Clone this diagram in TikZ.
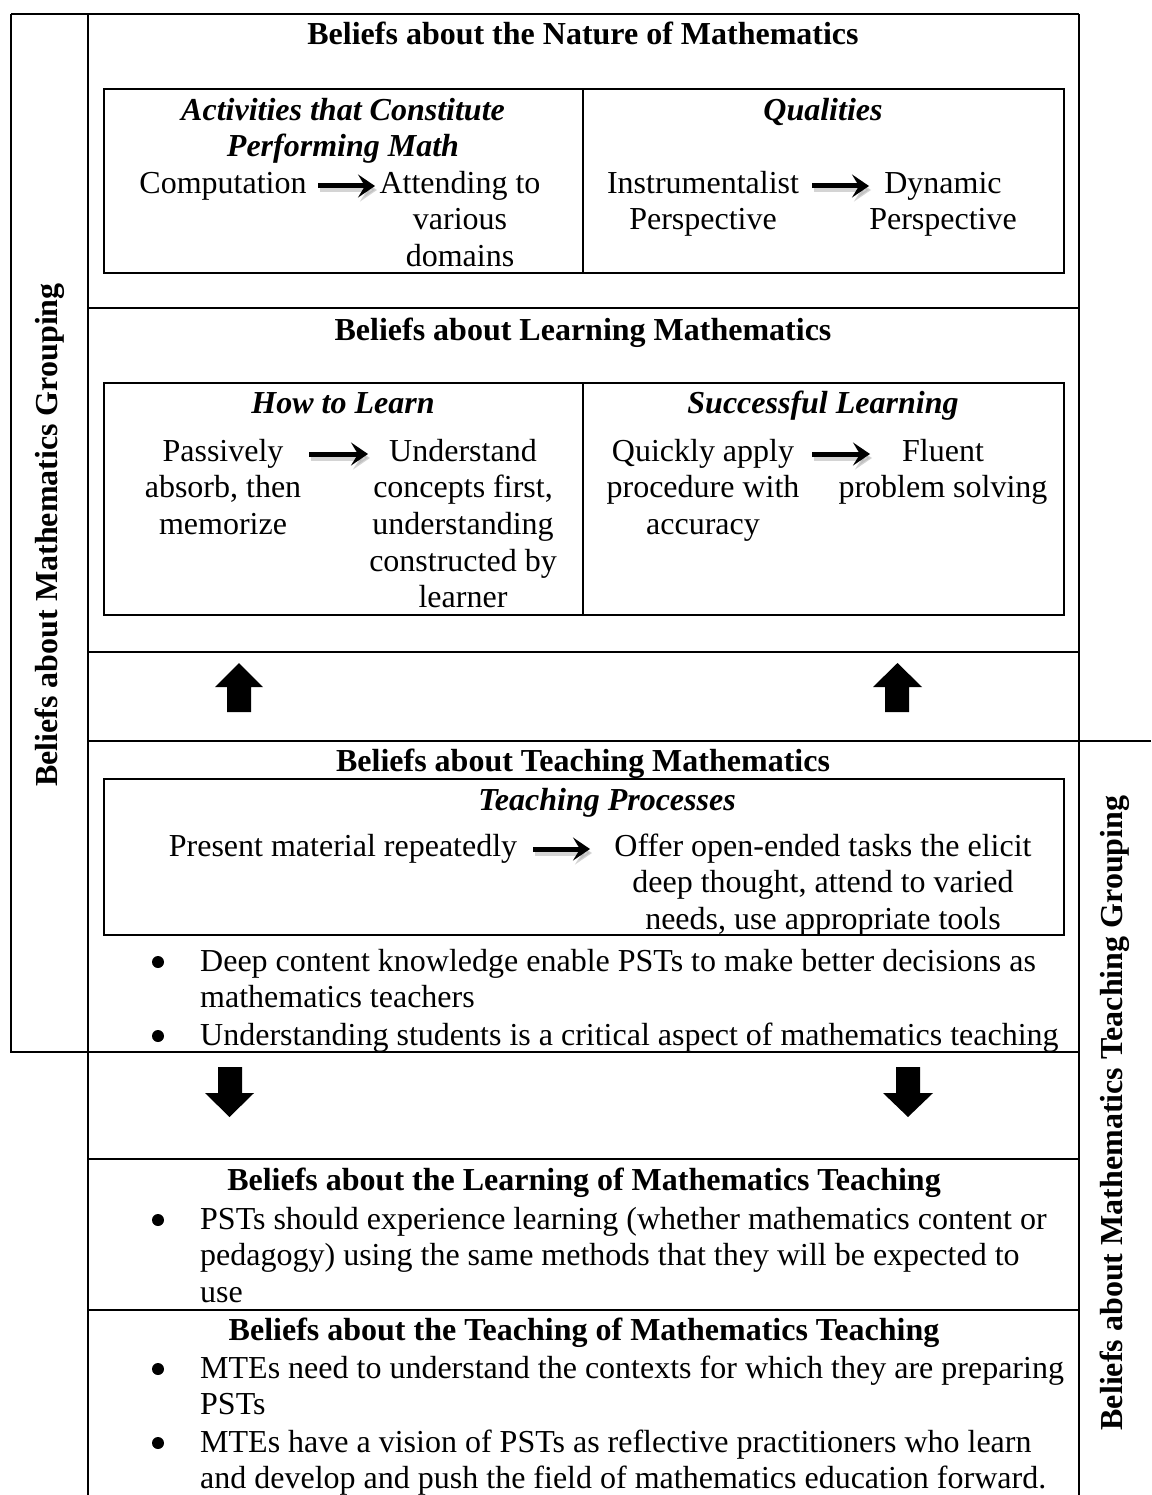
\documentclass[tikz,border=0pt]{standalone}
\usepackage{fontspec}
\setmainfont{Liberation Serif}
\usetikzlibrary{arrows.meta}
\newcommand\fs{\fontsize{32}{36.6}\selectfont}
\begin{document}
\begin{tikzpicture}[x=1pt,y=-1pt,
  bl/.style={inner sep=0pt, anchor=north, yshift=25.6pt, font=\fs, align=center},
  bll/.style={bl, anchor=north west, align=left},
  hd/.style={bl, font=\fs\bfseries},
  sub/.style={bl, font=\fs\bfseries\itshape},
  rule/.style={line width=2pt},
  flow/.style={line width=5pt, -{Stealth[length=17pt,width=23pt,inset=7pt]}},
  flowshadow/.style={flow, draw=black!30, opacity=0.55},
  block/.style={fill=black, draw=none},
  dot/.style={circle, fill=black, draw=none, inner sep=0pt, minimum size=12pt},
  grp/.style={inner sep=0pt, anchor=base, rotate=90, font=\fs\bfseries}
]
\useasboundingbox (0,0) rectangle (1151,1495);
\fill[white] (0,0) rectangle (1151,1495);

% ---- frame lines ----
\draw[rule] (11,14) -- (1079,14);
\draw[rule] (11,14) -- (11,1052) -- (1079,1052);
\draw[rule] (88,14) -- (88,1495);
\draw[rule] (1079,14) -- (1079,1495);
\draw[rule] (88,308) -- (1079,308);
\draw[rule] (88,652) -- (1079,652);
\draw[rule] (88,741) -- (1151,741);
\draw[rule] (88,1159) -- (1079,1159);
\draw[rule] (88,1310) -- (1079,1310);

% ---- inner boxes ----
\draw[rule] (104,89) rectangle (1064,273);
\draw[rule] (583,89) -- (583,273);
\draw[rule] (104,383) rectangle (1064,615);
\draw[rule] (583,383) -- (583,615);
\draw[rule] (104,779) rectangle (1064,935);

% ---- grouping labels ----
\node[grp] (lgroup) at (57,535) {Beliefs about Mathematics Grouping};
\node[grp] (rgroup) at (1122,1113) {Beliefs about Mathematics Teaching Grouping};

% ---- Nature of Mathematics ----
\node[hd] (h1) at (583,44) {\strut Beliefs about the Nature of Mathematics};
\node[sub] (act) at (343,120) {\strut Activities that Constitute\\Performing Math};
\node[bl] (comp) at (223,193) {\strut Computation};
\node[bl] (attend) at (460,193) {\strut Attending to\\various\\domains};
\node[sub] (qual) at (823,120) {\strut Qualities};
\node[bl] (instr) at (703,193) {\strut Instrumentalist\\Perspective};
\node[bl] (dyn) at (943,193) {\strut Dynamic\\Perspective};

% ---- Learning Mathematics ----
\node[hd] (h2) at (583,340) {\strut Beliefs about Learning Mathematics};
\node[sub] (how) at (343,413) {\strut How to Learn};
\node[sub] (succ) at (823,413) {\strut Successful Learning};
\node[bl] (pass) at (223,461) {\strut Passively\\absorb, then\\memorize};
\node[bl] (under) at (463,461) {\strut Understand\\concepts first,\\understanding\\constructed by\\learner};
\node[bl] (quick) at (703,461) {\strut Quickly apply\\procedure with\\accuracy};
\node[bl] (fluent) at (943,461) {\strut Fluent\\problem solving};

% ---- Teaching Mathematics ----
\node[hd] (h3) at (583,771) {\strut Beliefs about Teaching Mathematics};
\node[sub] (tproc) at (607,810) {\strut Teaching Processes};
\node[bl] (present) at (343,856) {\strut Present material repeatedly};
\node[bl] (offer) at (823,856) {\strut Offer open-ended tasks the elicit\\deep thought, attend to varied\\needs, use appropriate tools};
\node[dot] (b1dot) at (158,962) {};
\node[bll] (b1) at (200,971) {\strut Deep content knowledge enable PSTs to make better decisions as\\mathematics teachers};
\node[dot] (b2dot) at (158,1036) {};
\node[bll] (b2) at (200,1045) {\strut Understanding students is a critical aspect of mathematics teaching};

% ---- Learning of Mathematics Teaching ----
\node[hd] (h4) at (584,1190) {\strut Beliefs about the Learning of Mathematics Teaching};
\node[dot] (b3dot) at (158,1220) {};
\node[bll] (b3) at (200,1229) {\strut PSTs should experience learning (whether mathematics content or\\pedagogy) using the same methods that they will be expected to\\use};

% ---- Teaching of Mathematics Teaching ----
\node[hd] (h5) at (584,1340) {\strut Beliefs about the Teaching of Mathematics Teaching};
\node[dot] (b4dot) at (158,1369) {};
\node[bll] (b4) at (200,1378) {\strut MTEs need to understand the contexts for which they are preparing\\PSTs};
\node[dot] (b5dot) at (158,1443) {};
\node[bll] (b5) at (200,1452) {\strut MTEs have a vision of PSTs as reflective practitioners who learn\\and develop and push the field of mathematics education forward.};

% ---- small flow arrows ----
\coordinate (a1s) at (318,186); \coordinate (a1e) at (375,186);
\coordinate (a2s) at (812,186); \coordinate (a2e) at (869,186);
\coordinate (a3s) at (309,454); \coordinate (a3e) at (368,454);
\coordinate (a4s) at (812,454); \coordinate (a4e) at (870,454);
\coordinate (a5s) at (533,849); \coordinate (a5e) at (590,849);
\foreach \s/\e in {a1s/a1e,a2s/a2e,a3s/a3e,a4s/a4e,a5s/a5e}{
  \draw[flowshadow] ([shift={(2,4)}]\s) -- ([shift={(2,4)}]\e);
  \draw[flow] (\s) -- (\e);
}

% ---- block arrows ----
\fill[block] (239,663) -- (263,687) -- (251,687) -- (251,712) -- (227,712) -- (227,687) -- (215,687) -- cycle;
\fill[block] (897.5,663) -- (922,687) -- (909,687) -- (909,712) -- (885,712) -- (885,687) -- (873,687) -- cycle;
\fill[block] (229.5,1117) -- (254,1093) -- (242,1093) -- (242,1067) -- (218,1067) -- (218,1093) -- (205,1093) -- cycle;
\fill[block] (908,1117) -- (933,1093) -- (920,1093) -- (920,1067) -- (896,1067) -- (896,1093) -- (883,1093) -- cycle;
\end{tikzpicture}
\end{document}
